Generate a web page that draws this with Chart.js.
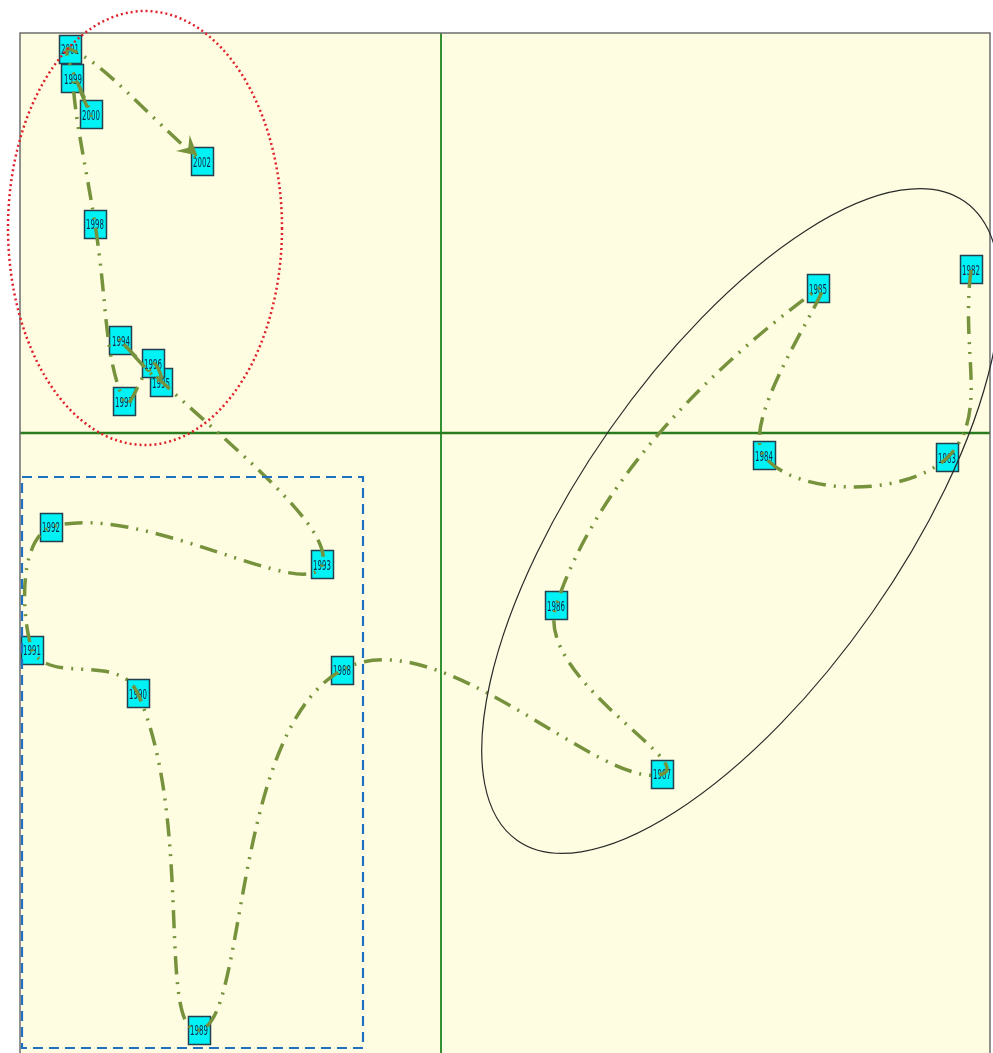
<!DOCTYPE html>
<html>
<head>
<meta charset="utf-8">
<script src="https://cdn.jsdelivr.net/npm/chart.js@4.4.1/dist/chart.umd.min.js"></script>
<style>
    html, body { margin: 0; padding: 0; background: #ffffff; }
    #wrap { width: 993px; height: 1053px; }
</style>
</head>
<body>
<div id="wrap"><canvas id="trajChart"></canvas></div>
<script>
// Years and their positions on the factor plane
const years = [1982, 1983, 1984, 1985, 1986, 1987, 1988, 1989, 1990, 1991, 1992,
               1993, 1994, 1995, 1996, 1997, 1998, 1999, 2000, 2001, 2002];
const xValues = [5.30, 5.06, 3.23, 3.77, 1.15, 2.21, -0.99, -2.42, -3.03, -4.09, -3.90,
                 -1.19, -3.20, -2.80, -2.88, -3.17, -3.46, -3.68, -3.50, -3.71, -2.39];
const yValues = [1.63, -0.25, -0.23, 1.44, -1.73, -3.41, -2.37, -5.97, -2.61, -2.17, -0.94,
                 -1.32, 0.92, 0.50, 0.69, 0.31, 2.09, 3.54, 3.18, 3.84, 2.71];

// Axis extents
const xMin = -4.21, xMax = 5.49;
const yMin = -6.2, yMax = 4.0;

const points = years.map((y, i) => ({ x: xValues[i], y: yValues[i] }));

// Background of the plot area, border and the two green axes
const planePlugin = {
    id: 'plane',
    beforeDatasetsDraw(chart) {
        const { ctx, chartArea: a, scales } = chart;
        ctx.save();
        ctx.fillStyle = '#fefde1';
        ctx.fillRect(a.left, a.top, a.right - a.left, a.bottom - a.top);

        const x0 = Math.round(scales.x.getPixelForValue(0));
        const y0 = Math.round(scales.y.getPixelForValue(0));
        ctx.strokeStyle = '#349234';
        ctx.lineWidth = 2;
        ctx.beginPath();
        ctx.moveTo(x0, a.top);
        ctx.lineTo(x0, a.bottom);
        ctx.stroke();
        ctx.lineWidth = 2.5;
        ctx.strokeStyle = '#2a7d1f';
        ctx.beginPath();
        ctx.moveTo(a.left, y0);
        ctx.lineTo(a.right, y0);
        ctx.stroke();

        ctx.strokeStyle = '#6d6d6d';
        ctx.lineWidth = 1.5;
        ctx.strokeRect(a.left, a.top, a.right - a.left, a.bottom - a.top + 5);

        // year boxes sit under the trajectory line
        const meta = chart.getDatasetMeta(0);
        meta.data.forEach((pt, i) => {
            const w = 23, h = 29;
            const bx = Math.round(pt.x - w / 2), by = Math.round(pt.y - h / 2);
            ctx.fillStyle = '#00f2f5';
            ctx.fillRect(bx, by, w, h);
            ctx.strokeStyle = '#24404f';
            ctx.lineWidth = 1.5;
            ctx.strokeRect(bx + 0.5, by + 0.5, w - 1, h - 1);
            ctx.save();
            ctx.translate(pt.x, pt.y);
            ctx.scale(0.5, 1);
            ctx.fillStyle = '#102a48';
            ctx.font = '14px "DejaVu Sans"';
            ctx.textAlign = 'center';
            ctx.textBaseline = 'middle';
            ctx.fillText(String(years[i]), 0, 1);
            ctx.restore();
        });
        ctx.restore();
    }
};

// Group outlines and the arrow at the end of the trajectory
const groupsPlugin = {
    id: 'groups',
    afterDatasetsDraw(chart) {
        const { ctx, scales } = chart;
        const px = v => scales.x.getPixelForValue(v);
        const py = v => scales.y.getPixelForValue(v);
        const sx = scales.x.getPixelForValue(1) - scales.x.getPixelForValue(0);
        const sy = scales.y.getPixelForValue(0) - scales.y.getPixelForValue(1);
        ctx.save();

        // arrow head at 2002
        const meta = chart.getDatasetMeta(0);
        const last = meta.data[meta.data.length - 1];
        const prev = meta.data[meta.data.length - 2];
        const cx = last.cp1x !== undefined ? last.cp1x : prev.x;
        const cy = last.cp1y !== undefined ? last.cp1y : prev.y;
        const ang = Math.atan2(last.y - cy, last.x - cx);
        const tipX = last.x - Math.cos(ang) * 6, tipY = last.y - Math.sin(ang) * 10;
        ctx.fillStyle = '#76923c';
        ctx.beginPath();
        ctx.moveTo(tipX, tipY);
        ctx.lineTo(tipX - Math.cos(ang - 0.5) * 22, tipY - Math.sin(ang - 0.5) * 22);
        ctx.lineTo(tipX - Math.cos(ang) * 12, tipY - Math.sin(ang) * 12);
        ctx.lineTo(tipX - Math.cos(ang + 0.5) * 22, tipY - Math.sin(ang + 0.5) * 22);
        ctx.closePath();
        ctx.fill();

        // red dotted ellipse around 1994-2002
        ctx.strokeStyle = '#e0202a';
        ctx.lineWidth = 2.5;
        ctx.setLineDash([2, 3]);
        ctx.beginPath();
        ctx.ellipse(px(-2.96), py(2.05), 1.37 * sx, 2.17 * sy, 0, 0, Math.PI * 2);
        ctx.stroke();

        // black ellipse around 1982-1987
        ctx.setLineDash([]);
        ctx.strokeStyle = '#2b2b2b';
        ctx.lineWidth = 1.2;
        ctx.beginPath();
        ctx.ellipse(px(3.0), py(-0.88), 3.9 * sx, 1.6 * sy, -55 * Math.PI / 180, 0, Math.PI * 2);
        ctx.stroke();

        // blue dashed box around 1988-1993
        ctx.strokeStyle = '#1f70c1';
        ctx.lineWidth = 2.2;
        ctx.setLineDash([10, 6]);
        const l = px(-4.19), r = px(-0.78), t = py(-0.44), b = py(-6.15);
        ctx.strokeRect(l, t, r - l, b - t);
        ctx.restore();
    }
};

document.addEventListener('DOMContentLoaded', function() {
    const ctx = document.getElementById('trajChart').getContext('2d');
    new Chart(ctx, {
        type: 'scatter',
        data: {
            datasets: [{
                label: 'Trajectory',
                data: points,
                showLine: true,
                tension: 0.45,
                borderColor: '#76923c',
                borderWidth: 3.5,
                borderDash: [18, 8, 2, 8, 2, 8],
                borderCapStyle: 'butt',
                pointRadius: 0,
                clip: false
            }]
        },
        options: {
            responsive: true,
            maintainAspectRatio: false,
            animation: false,
            layout: {
                padding: { top: 33, left: 20, right: 3, bottom: 0 }
            },
            scales: {
                x: { type: 'linear', min: xMin, max: xMax, display: false },
                y: { type: 'linear', min: yMin, max: yMax, display: false }
            },
            plugins: {
                legend: { display: false },
                tooltip: { enabled: false }
            }
        },
        plugins: [planePlugin, groupsPlugin]
    });
});
</script>
</body>
</html>
